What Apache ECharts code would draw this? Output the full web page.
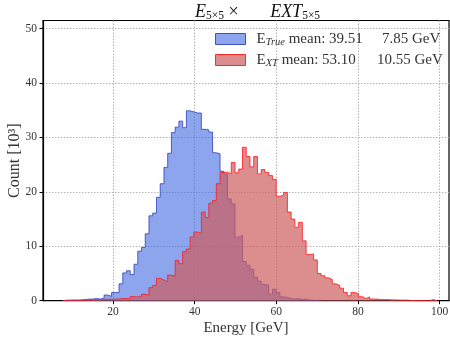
<!DOCTYPE html>
<html>
<head>
<meta charset="utf-8">
<script src="https://cdn.jsdelivr.net/npm/echarts@6/dist/echarts.min.js"></script>
<style>
html,body{margin:0;padding:0;background:#fff;}
#chart{width:450px;height:339px;}
</style>
</head>
<body>
<div id="chart"></div>
<script>
// Histogram binning (GeV)
const binStart = 7.74;
const binWidth = 0.916;

// Counts [10^3] per bin, E_True
const trueCounts = [0.1,0.05,0.1,0.1,0.15,0.2,0.3,0.3,0.4,0.3,
  0.5,1.05,0.8,1.5,1.5,3.1,5.1,5.5,4.8,6.7,
  9.1,9.8,12.3,15.6,16.1,19.0,21.5,24.5,27.1,30.9,
  31.9,33.0,31.8,34.9,34.7,34.5,34.5,31.5,31.4,31.0,
  27.2,27.0,23.8,23.3,18.7,17.8,11.7,12.0,7.2,6.5,
  5.8,4.3,3.6,3.0,2.9,1.2,2.1,1.5,0.7,0.6,
  0.4,0.3,0.4,0.2,0.3,0.1,0.1,0.05,0.1];

// Counts [10^3] per bin, E_XT
const xtCounts = [0.05,0.1,0.1,0.05,0.1,0.1,0.15,0.1,0.2,0.2,
  0.2,0.3,0.25,0.3,0.3,0.4,0.4,0.35,0.75,0.7,
  0.75,1.2,1.0,2.4,2.8,4.1,3.8,3.5,4.7,4.5,
  7.4,6.8,9.0,9.5,11.7,12.6,12.4,16.3,15.3,17.9,
  18.4,21.5,23.6,23.6,23.3,25.4,23.5,24.2,28.2,26.5,
  24.6,26.5,23.3,24.1,23.6,23.0,22.3,19.2,19.4,19.9,
  16.3,15.0,13.5,14.4,11.0,8.5,8.6,7.5,5.0,4.6,
  4.2,3.9,3.1,2.8,2.3,1.5,0.9,1.5,1.3,0.74,
  0.4,0.7,0.3,0.3,0.2,0.2,0.2,0.15,0.15,0.1,
  0.1,0.12,0.05,0.05,0,0.02,0,0,0.2,0];

const legendInfo = {
  'E_True': {sub: 'True', mean: '39.51', std: '7.85 GeV', key: 'm1'},
  'E_XT':   {sub: 'XT',   mean: '53.10', std: '10.55 GeV', key: 'm2'}
};

const xTicks = [20, 40, 60, 80, 100];
const yTicks = [0, 10, 20, 30, 40, 50];

function stepPoints(vals) {
  const pts = [[binStart, 0]];
  for (let i = 0; i < vals.length; i++) {
    pts.push([binStart + i * binWidth, vals[i]]);
  }
  pts.push([binStart + vals.length * binWidth, 0]);
  return pts;
}

const serif = '"Liberation Serif", "DejaVu Serif", serif';
const txt = '#333';
const chart = echarts.init(document.getElementById('chart'), null, {renderer: 'canvas'});

chart.setOption({
  animation: false,
  backgroundColor: '#fff',
  title: {
    text: '{i|E}{s|5×5}{t| ×}{i|       EXT}{s|5×5}',
    left: 190, top: -3,
    textStyle: {
      fontWeight: 'normal',
      rich: {
        i: {fontFamily: serif, fontStyle: 'italic', fontWeight: 'normal', fontSize: 18, color: '#111'},
        s: {fontFamily: serif, fontWeight: 'normal', fontSize: 11.5, color: '#111', padding: [8, 0, 0, 0]},
        t: {fontFamily: serif, fontWeight: 'normal', fontSize: 18, color: '#111'}
      }
    }
  },
  legend: {
    orient: 'vertical',
    left: 210, top: 25,
    itemWidth: 30, itemHeight: 11, itemGap: 3,
    icon: 'rect',
    selectedMode: false,
    data: [
      {name: 'E_True', itemStyle: {color: 'rgba(65,105,225,0.6)', borderColor: '#3f51c4', borderWidth: 1}},
      {name: 'E_XT', itemStyle: {color: 'rgba(205,92,92,0.7)', borderColor: '#ff2a2a', borderWidth: 1}}
    ],
    formatter: function (name) {
      const d = legendInfo[name];
      return '{e|E}{s|' + d.sub + '}{' + d.key + '| mean: ' + d.mean + '}{v|' + d.std + '}';
    },
    textStyle: {
      padding: [0, 0, 0, 6],
      lineHeight: 14,
      rich: {
        e: {fontFamily: serif, fontSize: 15, color: txt, lineHeight: 14},
        s: {fontFamily: serif, fontStyle: 'italic', fontSize: 10.5, color: txt, padding: [7, 0, 0, 0], lineHeight: 14},
        m1: {fontFamily: serif, fontSize: 15, color: txt, width: 97, align: 'left', lineHeight: 14},
        m2: {fontFamily: serif, fontSize: 15, color: txt, width: 99, align: 'left', lineHeight: 14},
        v: {fontFamily: serif, fontSize: 15, color: txt, lineHeight: 14}
      }
    }
  },
  grid: {
    left: 43, right: 1, top: 20.5, bottom: 38.3,
    outerBoundsMode: 'none',
    containLabel: false,
    show: true, borderColor: '#000', borderWidth: 1.2
  },
  xAxis: {
    type: 'value',
    min: 2.86, max: 102.27,
    interval: 20,
    name: 'Energy [GeV]',
    nameLocation: 'middle',
    nameGap: 20,
    nameMoveOverlap: false,
    nameTextStyle: {fontFamily: serif, fontSize: 15, color: txt},
    axisLine: {show: true, onZero: false, lineStyle: {color: '#000', width: 1.2}},
    axisTick: {show: true, length: 3.5, lineStyle: {color: '#000'}, customValues: xTicks},
    axisLabel: {fontFamily: serif, fontSize: 11.5, color: '#333', margin: 5, customValues: xTicks,
      formatter: v => String(v)},
    splitLine: {show: true, lineStyle: {color: '#b4b4b4', type: [1.5, 1.5], width: 1}},
  },
  yAxis: {
    type: 'value',
    min: 0, max: 51.5,
    interval: 10,
    name: 'Count [10³]',
    nameLocation: 'middle',
    nameGap: 20,
    nameMoveOverlap: false,
    nameTextStyle: {fontFamily: serif, fontSize: 16, color: txt},
    axisLine: {show: true, lineStyle: {color: '#000', width: 1.2}},
    axisTick: {show: true, length: 3.5, lineStyle: {color: '#000'}, customValues: yTicks},
    axisLabel: {fontFamily: serif, fontSize: 11.5, color: '#333', margin: 6, customValues: yTicks},
    splitLine: {show: true, lineStyle: {color: '#b4b4b4', type: [1.5, 1.5], width: 1}},
  },
  series: [
    {
      name: 'E_True',
      type: 'line',
      step: 'end',
      symbol: 'none',
      data: stepPoints(trueCounts),
      lineStyle: {color: 'rgba(40,55,180,0.75)', width: 1},
      itemStyle: {color: 'rgba(65,105,225,0.6)'},
      areaStyle: {color: 'rgba(65,105,225,0.6)', opacity: 1, origin: 0},
      z: 2
    },
    {
      name: 'E_XT',
      type: 'line',
      step: 'end',
      symbol: 'none',
      data: stepPoints(xtCounts),
      lineStyle: {color: 'rgba(255,30,40,0.85)', width: 1},
      itemStyle: {color: 'rgba(205,92,92,0.7)'},
      areaStyle: {color: 'rgba(205,92,92,0.7)', opacity: 1, origin: 0},
      z: 3
    }
  ]
});
</script>
</body>
</html>
